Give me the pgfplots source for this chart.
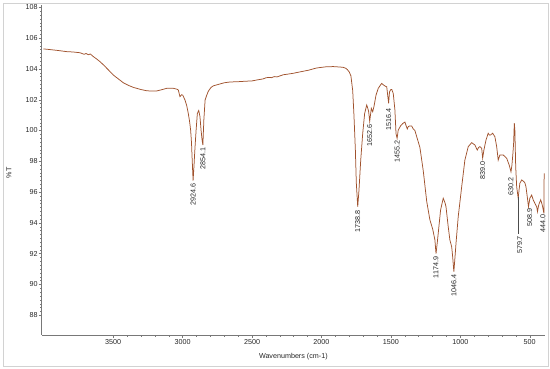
\documentclass[border=0pt]{standalone}
\usepackage{fontspec}
\setmainfont{Liberation Sans}
\usepackage{pgfplots}
\pgfplotsset{compat=1.18}
\definecolor{irline}{RGB}{160,82,45}
\definecolor{axgray}{RGB}{120,120,120}
\pgfplotstableread{
x y
4003 105.3
3950 105.25
3900 105.2
3834 105.12
3790 105.1
3739 105.05
3710 104.95
3695 105.0
3679 104.92
3665 104.97
3643 104.8
3620 104.65
3595 104.47
3570 104.26
3546 104.04
3520 103.8
3499 103.6
3460 103.33
3427 103.1
3390 102.93
3355 102.8
3300 102.66
3258 102.58
3220 102.56
3186 102.57
3150 102.65
3114 102.74
3067 102.74
3040 102.68
3031 102.63
3022 102.3
3019 102.2
3008 102.32
2999 102.3
2983 101.98
2970 101.6
2959 101.1
2950 100.6
2942 100.0
2936 99.2
2932 98.3
2924.6 96.75
2918 97.7
2914 98.4
2908 99.3
2903 100.0
2894 101.1
2884 101.3
2875 100.9
2867 100.0
2860 99.4
2854.1 99.06
2847 100.7
2838 101.98
2826 102.3
2815 102.55
2795 102.8
2779 102.9
2740 103.0
2700 103.1
2659 103.15
2600 103.17
2546 103.2
2500 103.22
2466 103.28
2421 103.35
2400 103.42
2380 103.45
2360 103.43
2340 103.5
2320 103.48
2275 103.62
2250 103.65
2200 103.72
2169 103.78
2130 103.85
2091 103.92
2060 104.0
2034 104.06
2000 104.1
1965 104.14
1915 104.15
1864 104.12
1843 104.1
1825 104.04
1813 103.95
1800 103.8
1788 103.55
1775 102.6
1766 101.0
1756 98.8
1749 96.6
1738.8 95.05
1730 96.1
1717 98.1
1703 99.8
1689 101.1
1674 101.66
1665 101.4
1660 101.22
1652.6 100.6
1641 101.44
1631 101.22
1622 101.55
1607 102.3
1591 102.74
1575 102.95
1566 103.06
1555 102.97
1543 102.89
1530 102.84
1523 102.3
1516.4 101.77
1510 102.5
1500 102.67
1494 102.67
1483 102.41
1471 101.33
1463 99.8
1455.2 99.49
1447 100.03
1430 100.3
1415 100.45
1399 100.55
1390 100.3
1382 100.1
1375 100.25
1363 100.3
1350 100.29
1339 100.1
1327 100.0
1314 99.6
1291 98.9
1267 97.4
1242 95.4
1219 94.2
1199 93.6
1183 92.9
1174.9 92.0
1165 92.8
1159 93.32
1142 94.84
1123 95.6
1110 95.3
1103 95.05
1087 93.75
1075 92.89
1062 92.45
1055 91.8
1046.4 90.83
1038 91.8
1031 92.67
1015 94.4
990 96.35
967 98.08
943 98.95
918 99.21
895 99.06
878 98.73
868 98.9
859 98.95
846 98.85
839.0 98.2
830 98.73
815 99.38
799 99.82
790 99.7
782 99.71
767 99.82
751 99.6
738 98.95
727 98.08
715 98.41
691 98.41
666 98.2
648 97.76
635 97.32
628 97.76
621 98.52
616 99.17
611 100.47
607 100.03
601 97.65
594 96.35
583 95.6
576 96.2
571 96.57
558 96.79
542 96.68
535 96.6
527 96.35
515 95.5
508.9 95.05
499 95.6
486 95.81
475 95.5
463 95.27
450 95.05
444.0 94.73
437 95.1
431 95.27
421 95.5
414 95.3
407 95.05
398 94.62
396 97.22
}\spectrum
\begin{document}
\fontsize{7.2}{8.5}\selectfont
\begin{tikzpicture}
\begin{axis}[
  scale only axis, width=503.3bp, height=330bp,
  x dir=reverse, xmin=390, xmax=4015, ymin=86.72, ymax=108.15,
  axis lines=left, axis line style={axgray, -},
  clip=false,
  xtick={500,1000,...,3500}, minor x tick num=4,
  ytick={88,90,...,108}, minor y tick num=7,
  tick style={axgray, line width=0.4pt},
  major tick length=3bp, minor tick length=1.5bp,
  tick align=outside,
  /pgf/number format/assume math mode=true,
  /pgf/number format/set thousands separator={},
  ticklabel style={font=\fontsize{7.2}{8}\selectfont, text=black!85},
  yticklabel style={inner sep=0.8bp},
  xticklabel style={inner sep=1.5bp},
  xlabel={Wavenumbers (cm-1)}, ylabel={\%T},
  every axis x label/.style={at={(axis description cs:0.5,-0.0658)}, anchor=center, font=\fontsize{7.2}{8}\selectfont, text=black!85},
  every axis y label/.style={at={(axis description cs:-0.065,0.492)}, rotate=90, anchor=center, font=\fontsize{7.2}{8}\selectfont, text=black!85},
]
\addplot[irline, line width=0.75bp, mark=none] table[x=x, y=y] {\spectrum};
\begin{scope}[every node/.style={rotate=90, anchor=east, inner sep=0.6bp, font=\fontsize{7.2}{8}\selectfont, text=black!85}]
\node at (axis cs:2924.6,96.6) {2924.6};
\node at (axis cs:2854.1,98.95) {2854.1};
\node at (axis cs:1738.8,94.85) {1738.8};
\node at (axis cs:1652.6,100.45) {1652.6};
\node at (axis cs:1516.4,101.5) {1516.4};
\node at (axis cs:1455.2,99.4) {1455.2};
\node at (axis cs:1174.9,91.85) {1174.9};
\node at (axis cs:1046.4,90.7) {1046.4};
\node at (axis cs:839.0,98.05) {839.0};
\node at (axis cs:635,97.0) {630.2};
\node at (axis cs:572,93.2) {579.7};
\node at (axis cs:500,95.0) {508.9};
\node at (axis cs:405,94.6) {444.0};
\end{scope}
\draw[black!70, line width=0.4pt] (axis cs:579.7,95.7) -- (axis cs:579.7,93.3);
\end{axis}
\draw[gray!35, line width=0.6bp] ([shift={(-38.7bp,-31bp)}]current axis.south west) rectangle ([shift={(506.3bp,332bp)}]current axis.south west);
\path[use as bounding box] ([shift={(-41.7bp,-34bp)}]current axis.south west) rectangle ([shift={(508.3bp,335bp)}]current axis.south west);
\end{tikzpicture}
\end{document}
